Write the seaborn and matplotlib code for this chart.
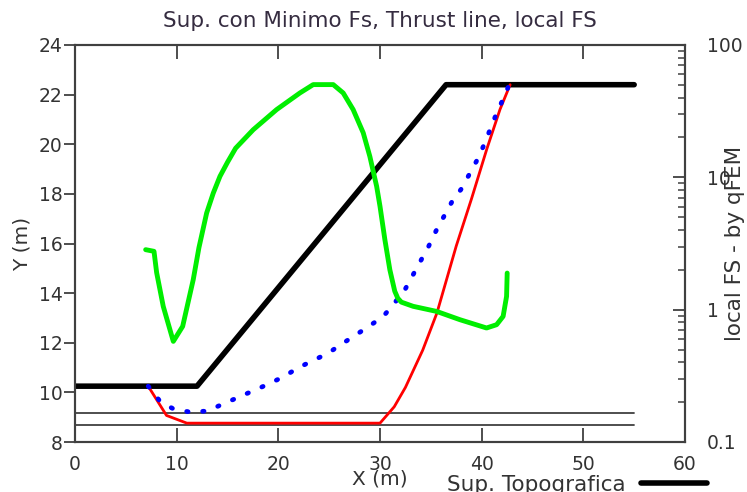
import numpy as np
import pandas as pd
import matplotlib
matplotlib.use("Agg")
import matplotlib.pyplot as plt
import seaborn as sns
from matplotlib.ticker import LogLocator, NullFormatter, FixedLocator

# Ground profile (Sup. Topografica)
topo_x = [0, 12, 36.5, 55]
topo_y = [10.25, 10.25, 22.4, 22.4]

# Layer boundaries
layer_x = [0, 55]
layer1_y = [9.16, 9.16]
layer2_y = [8.70, 8.70]

# Minimum-FS slip surface
slip_x = [7.2, 9.0, 11.0, 30.0, 31.4, 32.5, 34.2, 35.6, 37.5, 39.0, 40.5, 41.8, 42.8]
slip_y = [10.25, 9.07, 8.76, 8.76, 9.42, 10.2, 11.7, 13.2, 15.9, 17.8, 19.8, 21.4, 22.4]

# Thrust line
thrust_x = [7.2, 8.4, 9.7, 11.4, 13.0, 14.5, 16.0, 17.5, 19.0, 20.5, 22.0, 23.4, 24.9,
            26.2, 27.6, 29.0, 30.3, 31.4, 32.4, 33.2, 34.0, 34.8, 35.5, 36.3, 37.1,
            38.0, 38.8, 39.6, 40.3, 40.9, 41.5, 42.2, 42.6]
thrust_y = [10.25, 9.62, 9.33, 9.20, 9.25, 9.52, 9.79, 10.06, 10.33, 10.63, 11.0, 11.28,
            11.58, 11.94, 12.31, 12.69, 13.05, 13.59, 14.1, 14.7, 15.3, 15.9, 16.5, 17.1,
            17.7, 18.2, 18.8, 19.4, 20.04, 20.67, 21.28, 21.9, 22.3]

# Local factor of safety along the slip surface (qFEM)
fs_x = [6.95, 7.77, 8.03, 8.68, 9.67, 10.59, 11.63, 12.19, 12.95, 13.6, 14.26, 15.0,
        15.8, 17.53, 19.83, 22.12, 23.43, 25.4, 26.38, 27.36, 28.35, 29.0, 29.67, 30.0,
        30.48, 30.97, 31.45, 31.75, 32.1, 33.26, 35.57, 37.86, 40.48, 41.47, 42.11,
        42.45, 42.51]
fs_v = [2.84, 2.76, 1.905, 1.059, 0.576, 0.748, 1.686, 2.94, 5.38, 7.6, 10.18, 13.0,
        16.6, 22.9, 32.5, 43.4, 50.2, 50.2, 43.4, 32.5, 21.7, 14.4, 8.55, 6.04,
        3.38, 2.0, 1.38, 1.22, 1.14, 1.06, 0.97, 0.84, 0.727, 0.77, 0.89,
        1.26, 1.89]

x_ticks = [0, 10, 20, 30, 40, 50, 60]
y_ticks = [8, 10, 12, 14, 16, 18, 20, 22, 24]

sns.set_theme(style="ticks")
plt.rcParams["font.family"] = ["DejaVu Sans"]
text_color = "#333333"
fs = 13.5
fs_big = 15.5

fig = plt.figure(figsize=(7.47, 4.92), dpi=100)
ax = fig.add_axes([75 / 747, 1 - 442 / 492, 610 / 747, 397 / 492])
ax2 = ax.twinx()

# Layer boundaries
for ly in (layer1_y, layer2_y):
    sns.lineplot(x=layer_x, y=ly, ax=ax, color="#404040", linewidth=1.3,
                 sort=False, estimator=None)

# Ground profile
sns.lineplot(x=topo_x, y=topo_y, ax=ax, color="black", linewidth=4,
             sort=False, estimator=None, label="Sup. Topografica")

# Slip surface
sns.lineplot(x=slip_x, y=slip_y, ax=ax, color="#ff0000", linewidth=2,
             sort=False, estimator=None)

# Thrust line (dotted)
sns.lineplot(x=thrust_x, y=thrust_y, ax=ax, color="#0000ff", linewidth=3.4,
             sort=False, estimator=None, linestyle=(0, (0.3, 3.1)),
             dash_capstyle="round")

# Local FS on log secondary axis
sns.lineplot(x=fs_x, y=fs_v, ax=ax2, color="#00ee00", linewidth=3.5,
             sort=False, estimator=None)

ax.set_xlim(0, 60)
ax.set_ylim(8, 24)
ax2.set_yscale("log")
ax2.set_ylim(0.1, 100)

ax.set_xticks(x_ticks)
ax.set_yticks(y_ticks)
ax.tick_params(axis="y", direction="out", length=8, width=1.3, pad=1,
               labelsize=fs, labelcolor=text_color, color="#404040")
ax.tick_params(axis="x", direction="in", length=10, width=1.3, pad=9,
               labelsize=fs, labelcolor=text_color, color="#404040",
               top=True, bottom=True)

ax2.yaxis.set_major_locator(FixedLocator([0.1, 1, 10, 100]))
ax2.yaxis.set_minor_locator(LogLocator(base=10, subs=np.arange(2, 10)))
ax2.yaxis.set_minor_formatter(NullFormatter())
ax2.set_yticklabels(["0.1", "1", "10", "100"])
ax2.tick_params(axis="y", which="major", direction="in", length=9, width=1.3,
                pad=16, labelsize=fs, labelcolor=text_color, color="#404040")
ax2.tick_params(axis="y", which="minor", direction="in", length=5, width=1.1,
                color="#404040")

for a in (ax, ax2):
    for sp in a.spines.values():
        sp.set_color("#404040")
        sp.set_linewidth(1.5)

ax.set_title("Sup. con Minimo Fs, Thrust line, local FS", fontsize=fs_big,
             color="#352c40", pad=13)
ax.set_xlabel("X (m)", fontsize=14.5, color=text_color)
ax.xaxis.set_label_coords(0.5, -0.07)
ax.set_ylabel("Y (m)", fontsize=14.5, color=text_color)
ax.yaxis.set_label_coords(-0.072, 0.5)
ax2.set_ylabel("local FS - by qFEM", fontsize=fs_big, color=text_color)
ax2.yaxis.set_label_coords(1.065, 0.5)

leg = ax.legend(loc="center", bbox_to_anchor=(577 / 747, 1 - 485 / 492),
                bbox_transform=fig.transFigure, frameon=False, markerfirst=False,
                fontsize=fs_big, handlelength=3.05, handletextpad=0.7,
                labelcolor=text_color, borderaxespad=0, borderpad=0)

fig.savefig("out.png", dpi=100)
